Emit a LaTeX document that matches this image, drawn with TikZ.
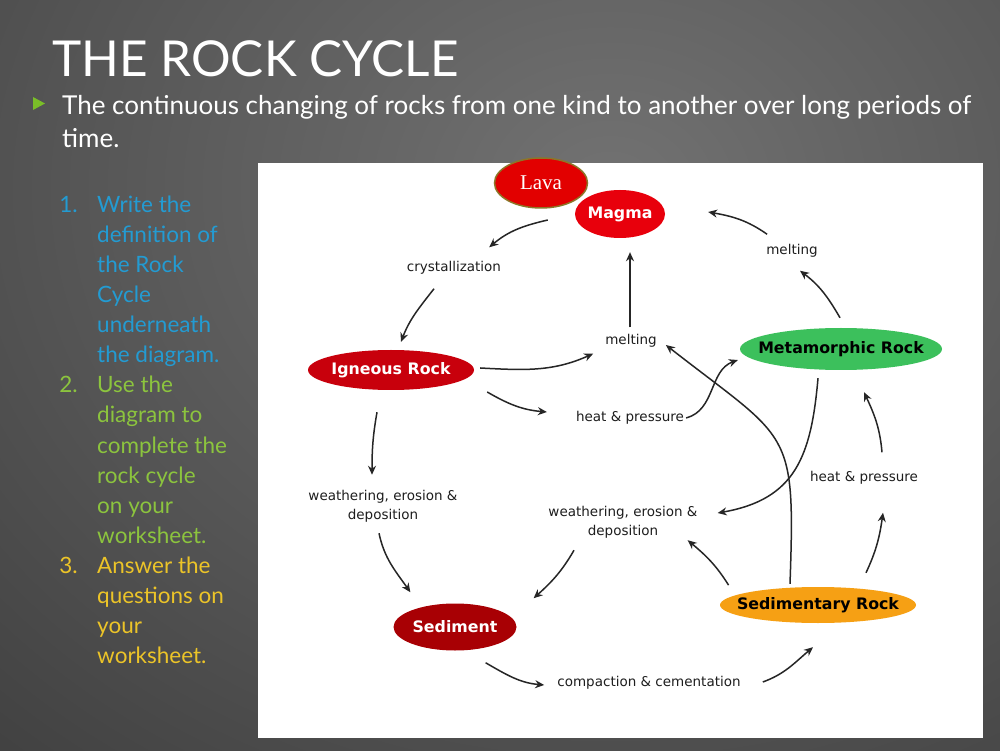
\documentclass[tikz,border=0pt]{standalone}
\usepackage{fontspec}
\usetikzlibrary{arrows.meta,shapes.geometric}

\newfontfamily\slidefont{Lato}
\newfontfamily\diagfont{DejaVu Sans}
\newfontfamily\lavafont{Liberation Serif}

\definecolor{bgdark}{RGB}{56,56,56}
\definecolor{bglight}{RGB}{114,114,114}
\definecolor{bulletgreen}{RGB}{122,190,40}
\definecolor{listblue}{RGB}{35,155,210}
\definecolor{listgreen}{RGB}{140,196,62}
\definecolor{listyellow}{RGB}{236,196,40}
\definecolor{magmared}{RGB}{232,0,12}
\definecolor{lavared}{RGB}{226,0,0}
\definecolor{lavarim}{RGB}{140,118,40}
\definecolor{ignred}{RGB}{200,0,12}
\definecolor{sedred}{RGB}{168,0,4}
\definecolor{metagreen}{RGB}{60,192,92}
\definecolor{sedorange}{RGB}{246,160,20}
\definecolor{labelgray}{RGB}{30,30,30}

\newcommand{\rocktext}[1]{\makebox[0pt]{#1}}

\tikzset{
  rock/.style={ellipse, inner sep=0pt, font=\diagfont\bfseries\fontsize{15.8}{18}\selectfont},
  proc/.style={inner sep=0pt, align=center, text=labelgray, font=\diagfont\fontsize{13.5}{19}\selectfont},
  flow/.style={-{Stealth[length=9pt,width=8pt]}, line width=1.5pt, black!85},
  numstyle/.style={anchor=base east, inner sep=0pt, font=\slidefont\fontsize{22.5}{26}\selectfont},
  taskline/.style={anchor=base west, inner sep=0pt, font=\slidefont\fontsize{22.5}{26}\selectfont},
}

\begin{document}
\begin{tikzpicture}[x=1pt,y=1pt]
    \useasboundingbox (0,0) rectangle (1000,750);

    % background
    \begin{scope}
        \clip (0,0) rectangle (1000,750);
        \shade[inner color=bglight, outer color=bgdark] (610,560) ellipse (1100 and 900);
    \end{scope}

    % title and lead line
    \node[anchor=base west, inner sep=0pt, text=white, font=\slidefont\fontsize{49.5}{56}\selectfont] (title) at (52,673) {THE ROCK CYCLE};
    \fill[bulletgreen] (33,653) -- (45,646.5) -- (33,640) -- cycle;
    \node[anchor=base west, inner sep=0pt, text=white, font=\slidefont\fontsize{26}{30}\selectfont] (lead) at (62,635) {The continuous changing of rocks from one kind to another over long periods of};
    \node[anchor=base west, inner sep=0pt, text=white, font=\slidefont\fontsize{26}{30}\selectfont] (leadend) at (62,602) {time.};

    % task list
    \node[numstyle, text=listblue] (num1) at (78,537) {1.};
    \foreach \ln [count=\i from 0] in {Write the, definition of, the Rock, Cycle, underneath, the diagram.}
        \node[taskline, text=listblue] (taskA\i) at (97,537-30*\i) {\ln};
    \node[numstyle, text=listgreen] (num2) at (78,357) {2.};
    \foreach \ln [count=\i from 0] in {Use the, diagram to, complete the, rock cycle, on your, worksheet.}
        \node[taskline, text=listgreen] (taskB\i) at (97,357-30*\i) {\ln};
    \node[numstyle, text=listyellow] (num3) at (78,177) {3.};
    \foreach \ln [count=\i from 0] in {Answer the, questions on, your, worksheet.}
        \node[taskline, text=listyellow] (taskC\i) at (97,177-30*\i) {\ln};

    % diagram panel
    \fill[white] (258,12) rectangle (983,587);

    % rocks
    \node[rock, fill=magmared, text=white, minimum width=90pt, minimum height=48pt] (magma) at (620,536) {\rocktext{Magma}};
    \node[rock, fill=lavared, draw=lavarim, line width=1.5pt, text=white, minimum width=93pt, minimum height=50pt,
          font=\lavafont\fontsize{21}{23}\selectfont] (lava) at (541,567) {\rocktext{Lava}};
    \node[rock, fill=ignred, text=white, minimum width=166pt, minimum height=40pt] (igneous) at (391,380) {\rocktext{Igneous Rock}};
    \node[rock, fill=metagreen, text=black, minimum width=202pt, minimum height=42pt] (meta) at (841,401) {\rocktext{Metamorphic Rock}};
    \node[rock, fill=sedred, text=white, minimum width=123pt, minimum height=47pt] (sediment) at (455,123) {\rocktext{Sediment}};
    \node[rock, fill=sedorange, text=black, minimum width=196pt, minimum height=36pt] (sedrock) at (818,145) {\rocktext{Sedimentary Rock}};

    % processes
    \node[proc] (cryst) at (454,482) {crystallization};
    \node[proc] (melt1) at (631,409) {melting};
    \node[proc] (melt2) at (792,499) {melting};
    \node[proc] (heat1) at (630,332) {heat \& pressure};
    \node[proc] (heat2) at (864,272) {heat \& pressure};
    \node[proc] (weath1) at (383,244) {weathering, erosion \&\\deposition};
    \node[proc] (weath2) at (623,228) {weathering, erosion \&\\deposition};
    \node[proc] (compact) at (649,67) {compaction \& cementation};

    % arrows
    \draw[flow] ([shift={(-27,-6)}]magma.west) to[out=193, in=40] ([shift={(-12,14)}]cryst.north east);
    \draw[flow] ([shift={(-20,-14)}]cryst.south) to[out=232, in=69] ([shift={(10,8)}]igneous.north);
    \draw[flow] ([shift={(6,2)}]igneous.east) to[out=-3, in=204] ([shift={(-12,-6)}]melt1.south west);
    \draw[flow] ([shift={(-1,7)}]melt1.north) -- ([shift={(10,-14)}]magma.south);
    \draw[flow] ([shift={(13,-22)}]igneous.east) to[out=-30, in=175] ([shift={(-29,6)}]heat1.west);
    \draw[flow] ([shift={(2,0)}]heat1.east) to[out=15, in=200] ([shift={(-2,-11)}]meta.west);
    \draw[flow] ([shift={(-1,10)}]meta.north) to[out=120, in=-37] ([shift={(8,-13)}]melt2.south);
    \draw[flow] ([shift={(1,10)}]melt2.north west) to[out=145, in=-10] ([shift={(43,2)}]magma.east);
    \draw[flow] ([shift={(-28,3)}]sedrock.north) to[out=88, in=-38, looseness=1.5] ([shift={(9,-4)}]melt1.east);
    \draw[flow] ([shift={(-23,-8)}]meta.south) to[out=265, in=10, looseness=1.2] ([shift={(20,9)}]weath2.east);
    \draw[flow] ([shift={(-20,7)}]sedrock.north west) to[out=122, in=-40] ([shift={(-10,-2)}]weath2.south east);
    \draw[flow] ([shift={(-49,-12)}]weath2.south) to[out=240, in=42] ([shift={(35,12)}]sediment.north east);
    \draw[flow] ([shift={(-14,-22)}]igneous.south) to[out=260, in=90] ([shift={(-11,15)}]weath1.north);
    \draw[flow] ([shift={(-4,-11)}]weath1.south) to[out=-78, in=125] ([shift={(-1,18)}]sediment.north west);
    \draw[flow] ([shift={(-13,-19)}]sediment.south east) to[out=-30, in=175] ([shift={(-13,-2)}]compact.west);
    \draw[flow] ([shift={(22,1)}]compact.east) to[out=20, in=220] ([shift={(-5,-24)}]sedrock.south);
    \draw[flow] ([shift={(48,14)}]sedrock.north) to[out=65, in=262] ([shift={(19,-28)}]heat2.south);
    \draw[flow] ([shift={(18,19)}]heat2.north) to[out=95, in=-65] ([shift={(23,-22)}]meta.south);
\end{tikzpicture}
\end{document}
